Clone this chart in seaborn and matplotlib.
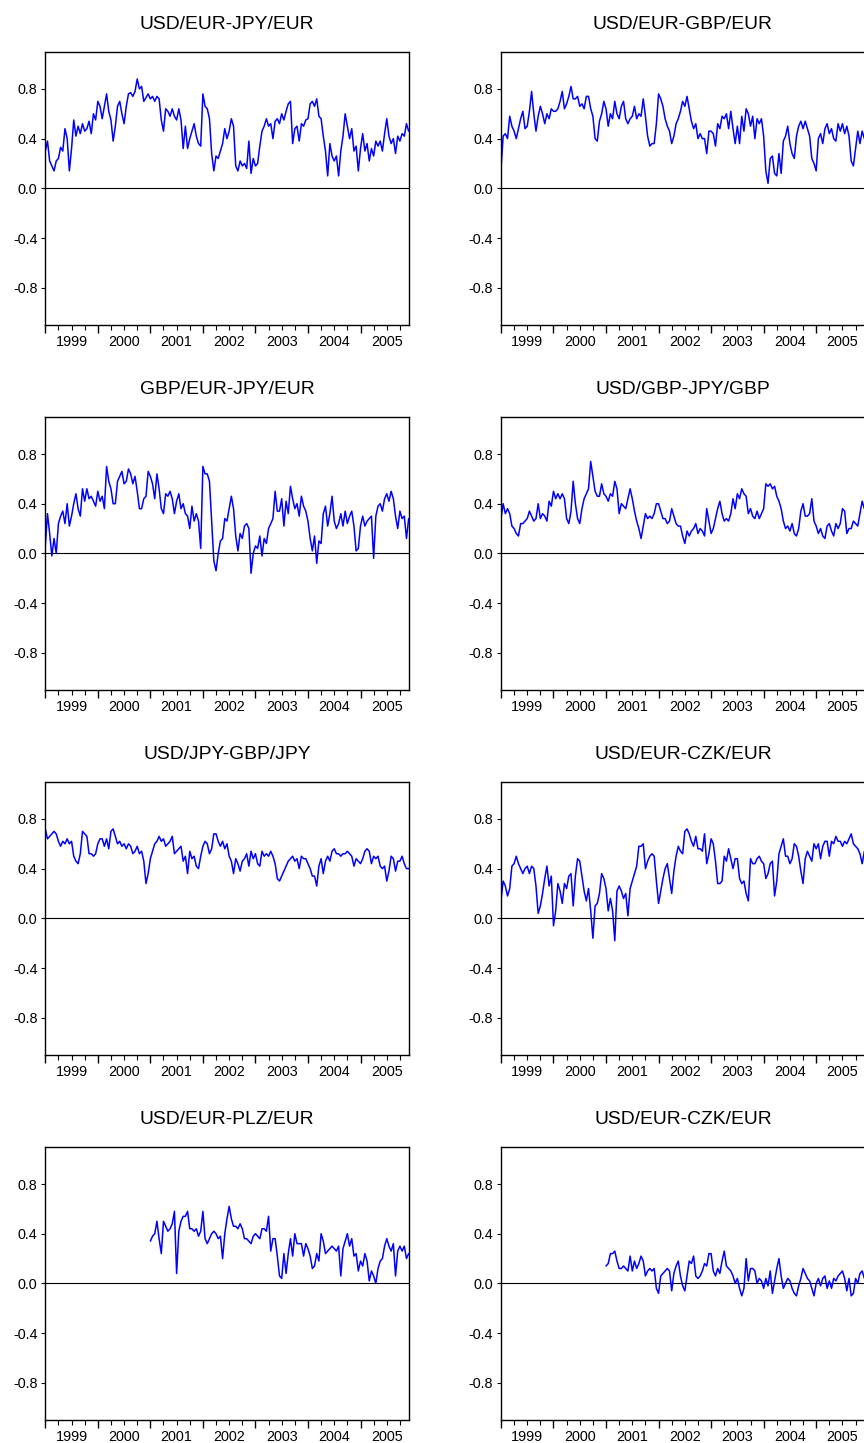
import numpy as np
import pandas as pd
import matplotlib
matplotlib.use("Agg")
import matplotlib.pyplot as plt
import seaborn as sns
from matplotlib.ticker import FixedLocator, NullFormatter, FuncFormatter

# semi-monthly observation dates (fractional years), Jan 1999 .. Nov 2005
dates = 1999 + np.arange(167) / 24

titles = ["USD/EUR-JPY/EUR", "USD/EUR-GBP/EUR",
          "GBP/EUR-JPY/EUR", "USD/GBP-JPY/GBP",
          "USD/JPY-GBP/JPY", "USD/EUR-CZK/EUR",
          "USD/EUR-PLZ/EUR", "USD/EUR-CZK/EUR"]

year_labels = ["1999", "2000", "2001", "2002", "2003", "2004", "2005"]
ytick_vals = [-0.8, -0.4, 0.0, 0.4, 0.8]
ytick_labels = ["-0.8", "-0.4", "0.0", "0.4", "0.8"]

usd_eur_jpy_eur = [
    0.30, 0.38, 0.22, 0.18, 0.14, 0.22, 0.24, 0.33, 0.30, 0.48, 0.40, 0.14, 0.32, 0.55, 0.42, 0.50, 0.44, 0.52, 0.46, 0.48, 0.54, 0.44, 0.60, 0.55,
    0.70, 0.66, 0.56, 0.66, 0.76, 0.62, 0.55, 0.38, 0.50, 0.66, 0.70, 0.60, 0.52, 0.66, 0.76, 0.77, 0.74, 0.78, 0.88, 0.80, 0.82, 0.70, 0.73, 0.76,
    0.72, 0.74, 0.70, 0.74, 0.72, 0.55, 0.46, 0.64, 0.62, 0.58, 0.64, 0.58, 0.55, 0.64, 0.55, 0.32, 0.50, 0.32, 0.40, 0.46, 0.52, 0.42, 0.36, 0.34,
    0.76, 0.66, 0.64, 0.56, 0.28, 0.14, 0.26, 0.24, 0.30, 0.36, 0.48, 0.40, 0.46, 0.56, 0.50, 0.18, 0.14, 0.22, 0.18, 0.20, 0.16, 0.38, 0.12, 0.24,
    0.18, 0.20, 0.34, 0.46, 0.50, 0.56, 0.50, 0.52, 0.40, 0.54, 0.56, 0.52, 0.60, 0.55, 0.62, 0.68, 0.70, 0.36, 0.48, 0.50, 0.38, 0.52, 0.50, 0.55,
    0.56, 0.68, 0.70, 0.66, 0.72, 0.58, 0.56, 0.42, 0.30, 0.10, 0.36, 0.26, 0.22, 0.26, 0.10, 0.30, 0.42, 0.60, 0.50, 0.40, 0.48, 0.30, 0.34, 0.14,
    0.32, 0.44, 0.30, 0.36, 0.22, 0.32, 0.26, 0.38, 0.34, 0.38, 0.30, 0.44, 0.56, 0.42, 0.36, 0.40, 0.28, 0.42, 0.38, 0.44, 0.42, 0.52, 0.46,
]

usd_eur_gbp_eur = [
    0.15, 0.42, 0.44, 0.40, 0.58, 0.50, 0.46, 0.40, 0.48, 0.56, 0.62, 0.48, 0.50, 0.62, 0.78, 0.60, 0.46, 0.58, 0.66, 0.60, 0.52, 0.60, 0.56, 0.64,
    0.62, 0.62, 0.64, 0.70, 0.78, 0.64, 0.68, 0.74, 0.82, 0.72, 0.72, 0.74, 0.66, 0.68, 0.64, 0.74, 0.74, 0.64, 0.58, 0.40, 0.38, 0.54, 0.60, 0.70,
    0.64, 0.50, 0.60, 0.56, 0.70, 0.60, 0.56, 0.66, 0.70, 0.56, 0.52, 0.56, 0.58, 0.66, 0.56, 0.60, 0.58, 0.72, 0.58, 0.42, 0.34, 0.36, 0.36, 0.52,
    0.76, 0.72, 0.66, 0.56, 0.50, 0.46, 0.36, 0.42, 0.52, 0.56, 0.62, 0.70, 0.66, 0.74, 0.64, 0.54, 0.48, 0.52, 0.40, 0.44, 0.40, 0.40, 0.28, 0.46,
    0.46, 0.44, 0.34, 0.52, 0.48, 0.58, 0.56, 0.60, 0.48, 0.62, 0.48, 0.36, 0.50, 0.36, 0.58, 0.46, 0.64, 0.60, 0.50, 0.58, 0.40, 0.56, 0.52, 0.56,
    0.42, 0.14, 0.04, 0.24, 0.26, 0.12, 0.10, 0.28, 0.12, 0.38, 0.42, 0.50, 0.36, 0.28, 0.24, 0.42, 0.50, 0.54, 0.48, 0.54, 0.48, 0.42, 0.24, 0.20,
    0.14, 0.40, 0.44, 0.36, 0.48, 0.52, 0.44, 0.48, 0.40, 0.38, 0.52, 0.46, 0.52, 0.44, 0.50, 0.42, 0.22, 0.18, 0.32, 0.46, 0.36, 0.46, 0.40,
]

gbp_eur_jpy_eur = [
    0.06, 0.32, 0.16, -0.02, 0.12, 0.00, 0.24, 0.30, 0.34, 0.24, 0.40, 0.22, 0.30, 0.40, 0.48, 0.36, 0.30, 0.52, 0.42, 0.52, 0.44, 0.46, 0.42, 0.38,
    0.50, 0.42, 0.46, 0.36, 0.70, 0.58, 0.52, 0.40, 0.40, 0.58, 0.62, 0.66, 0.56, 0.58, 0.68, 0.64, 0.56, 0.62, 0.50, 0.36, 0.36, 0.44, 0.46, 0.66,
    0.62, 0.56, 0.44, 0.64, 0.52, 0.36, 0.32, 0.48, 0.46, 0.50, 0.44, 0.32, 0.42, 0.48, 0.36, 0.40, 0.32, 0.30, 0.20, 0.38, 0.26, 0.32, 0.26, 0.04,
    0.70, 0.64, 0.64, 0.58, 0.26, -0.06, -0.14, 0.00, 0.10, 0.12, 0.28, 0.26, 0.36, 0.46, 0.36, 0.14, 0.02, 0.16, 0.12, 0.22, 0.24, 0.20, -0.16, 0.00,
    0.06, 0.04, 0.14, -0.02, 0.12, 0.08, 0.20, 0.24, 0.28, 0.50, 0.34, 0.34, 0.44, 0.22, 0.42, 0.32, 0.54, 0.44, 0.36, 0.40, 0.30, 0.46, 0.38, 0.34,
    0.26, 0.12, 0.02, 0.14, -0.08, 0.10, 0.08, 0.32, 0.38, 0.22, 0.32, 0.46, 0.26, 0.20, 0.24, 0.32, 0.22, 0.34, 0.24, 0.30, 0.34, 0.22, 0.02, 0.04,
    0.22, 0.30, 0.22, 0.26, 0.28, 0.30, -0.04, 0.30, 0.38, 0.40, 0.34, 0.44, 0.48, 0.42, 0.50, 0.44, 0.30, 0.20, 0.34, 0.28, 0.30, 0.12, 0.28,
]

usd_gbp_jpy_gbp = [
    0.28, 0.40, 0.32, 0.36, 0.32, 0.22, 0.20, 0.16, 0.14, 0.24, 0.24, 0.26, 0.28, 0.34, 0.30, 0.26, 0.28, 0.40, 0.28, 0.32, 0.30, 0.26, 0.42, 0.38,
    0.50, 0.44, 0.48, 0.44, 0.48, 0.44, 0.28, 0.24, 0.34, 0.58, 0.40, 0.28, 0.24, 0.36, 0.44, 0.48, 0.52, 0.74, 0.62, 0.50, 0.46, 0.46, 0.56, 0.48,
    0.46, 0.42, 0.48, 0.46, 0.58, 0.52, 0.32, 0.40, 0.38, 0.36, 0.44, 0.52, 0.44, 0.34, 0.26, 0.20, 0.12, 0.22, 0.32, 0.28, 0.30, 0.28, 0.32, 0.40,
    0.40, 0.34, 0.28, 0.28, 0.24, 0.26, 0.36, 0.30, 0.24, 0.22, 0.22, 0.14, 0.08, 0.18, 0.14, 0.18, 0.20, 0.24, 0.16, 0.20, 0.18, 0.14, 0.36, 0.26,
    0.16, 0.20, 0.28, 0.36, 0.42, 0.32, 0.26, 0.28, 0.26, 0.32, 0.44, 0.36, 0.48, 0.44, 0.52, 0.48, 0.46, 0.32, 0.36, 0.30, 0.28, 0.34, 0.28, 0.32,
    0.36, 0.56, 0.54, 0.56, 0.52, 0.54, 0.46, 0.42, 0.36, 0.26, 0.20, 0.22, 0.18, 0.24, 0.16, 0.14, 0.20, 0.34, 0.40, 0.30, 0.30, 0.32, 0.44, 0.26,
    0.22, 0.16, 0.20, 0.14, 0.12, 0.22, 0.24, 0.18, 0.14, 0.24, 0.20, 0.24, 0.36, 0.34, 0.16, 0.20, 0.20, 0.26, 0.24, 0.22, 0.32, 0.42, 0.36,
]

usd_jpy_gbp_jpy = [
    0.72, 0.64, 0.66, 0.68, 0.70, 0.68, 0.62, 0.58, 0.62, 0.60, 0.64, 0.60, 0.62, 0.50, 0.46, 0.44, 0.52, 0.70, 0.68, 0.66, 0.52, 0.52, 0.50, 0.52,
    0.60, 0.64, 0.64, 0.58, 0.64, 0.56, 0.70, 0.72, 0.66, 0.60, 0.62, 0.58, 0.60, 0.56, 0.60, 0.58, 0.52, 0.54, 0.58, 0.52, 0.54, 0.46, 0.28, 0.36,
    0.48, 0.54, 0.60, 0.62, 0.66, 0.62, 0.64, 0.58, 0.60, 0.62, 0.66, 0.52, 0.54, 0.56, 0.58, 0.46, 0.50, 0.36, 0.54, 0.48, 0.50, 0.42, 0.40, 0.50,
    0.58, 0.62, 0.60, 0.52, 0.56, 0.68, 0.68, 0.62, 0.58, 0.62, 0.56, 0.60, 0.50, 0.46, 0.36, 0.48, 0.44, 0.38, 0.46, 0.48, 0.52, 0.42, 0.54, 0.48,
    0.52, 0.44, 0.42, 0.54, 0.50, 0.52, 0.50, 0.54, 0.50, 0.44, 0.32, 0.30, 0.34, 0.38, 0.42, 0.46, 0.48, 0.50, 0.46, 0.48, 0.40, 0.50, 0.48, 0.48,
    0.44, 0.40, 0.34, 0.34, 0.26, 0.42, 0.48, 0.36, 0.46, 0.50, 0.46, 0.54, 0.56, 0.52, 0.52, 0.50, 0.52, 0.52, 0.54, 0.52, 0.50, 0.42, 0.48, 0.46,
    0.44, 0.48, 0.54, 0.56, 0.54, 0.44, 0.50, 0.48, 0.50, 0.42, 0.40, 0.42, 0.30, 0.38, 0.50, 0.48, 0.38, 0.46, 0.46, 0.50, 0.44, 0.40, 0.40,
]

usd_eur_czk_eur = [
    0.14, 0.30, 0.26, 0.18, 0.24, 0.42, 0.44, 0.50, 0.44, 0.40, 0.36, 0.40, 0.42, 0.36, 0.42, 0.40, 0.26, 0.04, 0.10, 0.20, 0.32, 0.42, 0.26, 0.34,
    -0.06, 0.06, 0.28, 0.22, 0.12, 0.28, 0.24, 0.34, 0.36, 0.10, 0.34, 0.48, 0.46, 0.34, 0.22, 0.14, 0.24, 0.06, -0.16, 0.10, 0.12, 0.20, 0.36, 0.32,
    0.24, 0.06, 0.16, 0.06, -0.18, 0.22, 0.26, 0.22, 0.16, 0.20, 0.02, 0.24, 0.30, 0.36, 0.42, 0.58, 0.58, 0.60, 0.40, 0.46, 0.50, 0.52, 0.50, 0.30,
    0.12, 0.22, 0.32, 0.40, 0.44, 0.32, 0.20, 0.38, 0.50, 0.58, 0.54, 0.52, 0.70, 0.72, 0.68, 0.62, 0.58, 0.66, 0.56, 0.56, 0.54, 0.68, 0.44, 0.52,
    0.64, 0.60, 0.46, 0.28, 0.28, 0.30, 0.50, 0.46, 0.56, 0.48, 0.40, 0.48, 0.48, 0.32, 0.28, 0.30, 0.20, 0.14, 0.48, 0.44, 0.44, 0.48, 0.50, 0.46,
    0.44, 0.32, 0.36, 0.44, 0.46, 0.18, 0.30, 0.52, 0.58, 0.64, 0.50, 0.50, 0.44, 0.48, 0.60, 0.58, 0.50, 0.38, 0.28, 0.48, 0.54, 0.50, 0.46, 0.60,
    0.56, 0.60, 0.48, 0.58, 0.62, 0.62, 0.50, 0.62, 0.60, 0.66, 0.62, 0.62, 0.58, 0.62, 0.60, 0.64, 0.68, 0.60, 0.58, 0.56, 0.52, 0.44, 0.54,
]

# PLZ and second CZK series only start in January 2001
usd_eur_plz_eur = [np.nan] * 48 + [
    0.34, 0.38, 0.40, 0.50, 0.36, 0.24, 0.50, 0.46, 0.42, 0.44, 0.48, 0.58, 0.08, 0.42, 0.50, 0.54, 0.54, 0.58, 0.44, 0.44, 0.42, 0.44, 0.38, 0.42,
    0.58, 0.36, 0.32, 0.36, 0.40, 0.42, 0.40, 0.36, 0.38, 0.20, 0.40, 0.52, 0.62, 0.52, 0.46, 0.46, 0.44, 0.48, 0.44, 0.36, 0.36, 0.34, 0.32, 0.38,
    0.40, 0.38, 0.36, 0.44, 0.44, 0.42, 0.54, 0.26, 0.36, 0.36, 0.22, 0.06, 0.04, 0.24, 0.08, 0.24, 0.36, 0.22, 0.40, 0.32, 0.32, 0.32, 0.22, 0.32,
    0.28, 0.22, 0.12, 0.14, 0.24, 0.18, 0.40, 0.34, 0.24, 0.26, 0.28, 0.30, 0.28, 0.26, 0.30, 0.06, 0.28, 0.34, 0.40, 0.30, 0.36, 0.22, 0.24, 0.10,
    0.18, 0.14, 0.24, 0.18, 0.02, 0.10, 0.06, 0.00, 0.12, 0.18, 0.20, 0.30, 0.36, 0.30, 0.26, 0.32, 0.06, 0.26, 0.30, 0.26, 0.30, 0.20, 0.24,
]

usd_eur_czk_eur_b = [np.nan] * 48 + [
    0.14, 0.16, 0.24, 0.24, 0.26, 0.18, 0.12, 0.12, 0.14, 0.12, 0.10, 0.22, 0.10, 0.18, 0.12, 0.16, 0.22, 0.18, 0.06, 0.10, 0.12, 0.10, 0.12, -0.04,
    -0.08, 0.06, 0.08, 0.10, 0.12, 0.10, -0.06, 0.08, 0.14, 0.18, 0.06, -0.02, -0.06, 0.06, 0.18, 0.16, 0.22, 0.06, 0.04, 0.06, 0.10, 0.16, 0.14, 0.24,
    0.24, 0.10, 0.06, 0.12, 0.08, 0.18, 0.26, 0.14, 0.12, 0.10, 0.06, 0.00, 0.04, -0.04, -0.10, -0.04, 0.20, 0.02, 0.12, 0.12, 0.10, 0.00, 0.04, 0.02,
    -0.04, 0.04, -0.02, 0.10, -0.08, 0.02, 0.12, 0.20, 0.06, -0.04, 0.00, 0.04, 0.02, -0.04, -0.08, -0.10, -0.02, 0.04, 0.12, 0.08, 0.04, 0.02, -0.04, -0.10,
    0.00, 0.04, -0.02, 0.04, 0.06, -0.04, 0.02, -0.04, 0.04, 0.02, 0.06, 0.08, 0.10, 0.04, -0.06, 0.04, -0.10, -0.08, 0.04, 0.00, 0.08, 0.10, 0.04,
]

series = [usd_eur_jpy_eur, usd_eur_gbp_eur, gbp_eur_jpy_eur, usd_gbp_jpy_gbp,
          usd_jpy_gbp_jpy, usd_eur_czk_eur, usd_eur_plz_eur, usd_eur_czk_eur_b]

sns.set_theme(style="white")
plt.rcParams['font.family'] = ['Liberation Sans', 'DejaVu Sans']

fig = plt.figure(figsize=(8.64, 14.43), dpi=100)

# axes boxes in figure fractions; the right column runs past the right edge
lefts = [0.0521, 0.5795]
bottoms = [0.7748, 0.5218, 0.2689, 0.0159]
w, h = 0.4217, 0.1894

quarters = [y + q for y in range(1999, 2006) for q in (0.25, 0.5, 0.75)]


def year_fmt(v, pos):
    if abs(v - np.floor(v) - 0.5) < 1e-6:
        return str(int(np.floor(v)))
    return ""


for i, (title, vals) in enumerate(zip(titles, series)):
    ax = fig.add_axes([lefts[i % 2], bottoms[i // 2], w, h])
    df = pd.DataFrame({"date": dates, "corr": vals}).dropna()
    sns.lineplot(data=df, x="date", y="corr", ax=ax, color="#0000FF",
                 linewidth=1.1, estimator=None, sort=False)
    ax.axhline(0, color="black", linewidth=0.8, zorder=1)

    ax.set_xlim(1998.995, 2005.93)
    ax.set_ylim(-1.1, 1.1)
    ax.set_xlabel("")
    ax.set_ylabel("")
    ax.set_title(title, fontsize=13.9, pad=16.5, color="black")

    ax.set_yticks(ytick_vals)
    ax.set_yticklabels(ytick_labels)
    ax.tick_params(axis="y", which="major", direction="out", length=3,
                   width=0.8, pad=2.5, labelsize=10.4, colors="black",
                   left=True)

    ax.xaxis.set_major_locator(FixedLocator(list(range(1999, 2006))))
    ax.xaxis.set_major_formatter(NullFormatter())
    ax.xaxis.set_minor_locator(FixedLocator(quarters))
    ax.xaxis.set_minor_formatter(FuncFormatter(year_fmt))
    ax.tick_params(axis="x", which="major", direction="out", length=5.5,
                   width=1.0, bottom=True, colors="black")
    ax.tick_params(axis="x", which="minor", direction="out", length=3.5,
                   width=0.8, bottom=True, pad=3.5, labelsize=10.4,
                   colors="black")

    for s in ax.spines.values():
        s.set_color("black")
        s.set_linewidth(1.0)
    ax.grid(False)

fig.savefig("out.png", dpi=100)
